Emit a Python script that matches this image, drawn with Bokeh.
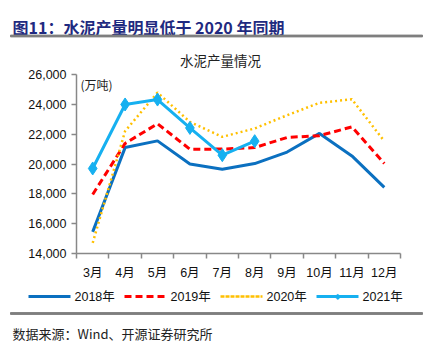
from bokeh.plotting import figure
from bokeh.layouts import column
from bokeh.models import (Range1d, FixedTicker, Label, BoxAnnotation, NumeralTickFormatter)
from bokeh.embed import file_html
from bokeh.resources import INLINE

months = ["3月", "4月", "5月", "6月", "7月", "8月", "9月", "10月", "11月", "12月"]
y2018 = [15450, 21100, 21550, 20000, 19650, 20030, 20800, 22050, 20540, 18430]
y2019 = [17960, 21380, 22700, 20990, 21000, 21100, 21780, 21900, 22490, 20030]
y2020 = [14710, 22200, 24790, 22820, 21820, 22380, 23270, 24100, 24340, 21530]
y2021 = [19700, 23990, 24320, 22420, 20590, 21530]
y_ticks = [14000, 16000, 18000, 20000, 22000, 24000, 26000]
series_names = ["2018年", "2019年", "2020年", "2021年"]

W = 428
HEAD, FOOT = 68, 64
MAIN = 351 - HEAD - FOOT
L, R = 76, 400
FT, FB = 74 - HEAD, 253 - HEAD  # frame top/bottom inside main figure

font = "Liberation Sans, Noto Sans CJK SC"
colors = ["#0B70C0", "#FF0000", "#FFC000", "#16B0F0"]
widths = [3, 3, 2.5, 3]
dashes = ["solid", "7 4", "2 3", "solid"]


def blank(h):
    f = figure(width=W, height=h, output_backend="svg", toolbar_location=None, title=None,
               x_range=Range1d(0, W), y_range=Range1d(0, h),
               x_axis_location=None, y_axis_location=None,
               min_border=0, min_border_left=0, min_border_right=0,
               min_border_top=0, min_border_bottom=0, frame_align=False)
    f.grid.visible = False
    f.outline_line_color = None
    return f


def hline(fig, x0, x1, y, color, width, dash):
    fig.add_layout(BoxAnnotation(left=x0, right=x1, bottom=y, top=y, fill_alpha=0,
                                 line_color=color, line_alpha=1.0, line_width=width,
                                 line_dash=dash, propagate_hover=False, editable=False))


def rule(fig, x0, x1, y):
    fig.add_layout(BoxAnnotation(left=x0, right=x1, bottom=y - 0.9, top=y + 0.9,
                                 fill_color="#7F7F7F", fill_alpha=1.0,
                                 line_color="#7F7F7F", line_alpha=1.0, line_width=1,
                                 propagate_hover=False, editable=False))


# header: page y (downward) -> data y = HEAD - y
hd = blank(HEAD)
hd.add_layout(Label(x=12, y=HEAD - 26, text="图11：水泥产量明显低于 2020 年同期",
                    text_font="Noto Sans CJK SC", text_font_style="bold",
                    text_font_size="16px", text_color="#1F2A80", text_baseline="alphabetic"))
rule(hd, 10, 422, HEAD - 35.5)
hd.add_layout(Label(x=220, y=HEAD - 59, text="水泥产量情况", text_font="Noto Sans CJK SC",
                    text_font_size="13.5px", text_color="#222222", text_align="center",
                    text_baseline="middle"))

# main chart
p = figure(width=W, height=MAIN, output_backend="svg", toolbar_location=None, title=None,
           x_range=Range1d(-0.5, len(months) - 0.5), y_range=Range1d(14000, 26000),
           min_border_left=L, min_border_right=W - R, min_border_top=FT,
           min_border_bottom=MAIN - FB, frame_align=False)
p.outline_line_color = None
p.xgrid.visible = False
p.ygrid.visible = False

xs = list(range(len(months)))
for ys, c, w, d in zip([y2018, y2019, y2020, y2021], colors, widths, dashes):
    p.line(xs[:len(ys)], ys, line_color=c, line_width=w, line_dash=d)
p.scatter(xs[:len(y2021)], y2021, marker="diamond", size=13, fill_color=colors[3],
          line_color=colors[3])

xa = p.xaxis[0]
xa.ticker = FixedTicker(ticks=xs, minor_ticks=[i - 0.5 for i in range(len(months) + 1)])
xa.major_label_overrides = {i: m for i, m in enumerate(months)}
xa.major_tick_line_color = None
xa.minor_tick_line_color = "#888888"
xa.minor_tick_out = 5
xa.minor_tick_in = 0
xa.axis_line_color = "#888888"
xa.axis_line_width = 1.5
xa.minor_tick_line_width = 1.5
xa.major_label_text_font = font
xa.major_label_text_font_size = "12.5px"
xa.major_label_text_color = "#111111"
xa.major_label_standoff = 6

ya = p.yaxis[0]
ya.ticker = FixedTicker(ticks=y_ticks)
ya.formatter = NumeralTickFormatter(format="0,0")
ya.major_tick_out = 5
ya.major_tick_in = 0
ya.minor_tick_line_color = None
ya.major_tick_line_color = "#888888"
ya.axis_line_color = "#888888"
ya.axis_line_width = 1.5
ya.major_tick_line_width = 1.5
ya.major_label_text_font = font
ya.major_label_text_font_size = "12.5px"
ya.major_label_text_color = "#111111"
ya.major_label_standoff = 5

p.add_layout(Label(x=4, y=FB - FT - 1, x_units="screen", y_units="screen",
                   text="(万吨)", text_font="Noto Sans CJK SC", text_font_size="12px",
                   text_color="#222222", text_baseline="top"))

# footer: page y (downward) -> data y = 351 - y
ft = blank(FOOT)
leg_y = 351 - 296
for i, (name, c, w, d) in enumerate(zip(series_names, colors, widths, dashes)):
    x0 = 28 + i * 96
    hline(ft, x0, x0 + 42, leg_y, c, w, d)
    ft.add_layout(Label(x=x0 + 46, y=leg_y, text=name, text_font=font,
                        text_font_size="12.5px", text_color="#111111",
                        text_baseline="middle"))
ft.add_layout(Label(x=28 + 3 * 96 + 21, y=leg_y, text="◆", text_font="DejaVu Sans",
                    text_font_size="8px", text_color=colors[3], text_align="center",
                    text_baseline="middle"))
rule(ft, 10, 422, 351 - 313)
ft.add_layout(Label(x=12, y=351 - 333, text="数据来源：Wind、开源证券研究所",
                    text_font="Noto Sans CJK SC", text_font_size="13px",
                    text_color="#222222", text_baseline="alphabetic"))

layout = column(hd, p, ft, spacing=0)
open("out.html", "w").write(file_html(layout, INLINE))
